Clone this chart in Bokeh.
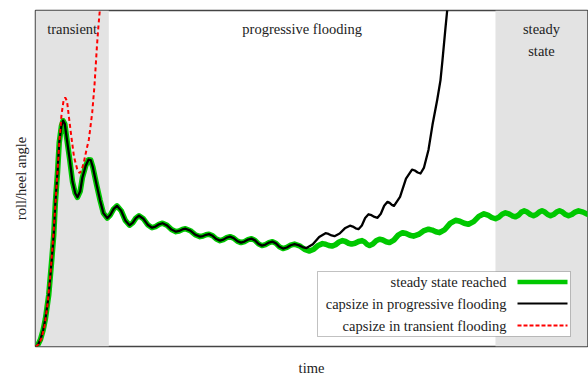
from bokeh.plotting import figure
from bokeh.models import Range1d, BoxAnnotation, Label, Arrow, FixedTicker
from bokeh.embed import file_html
from bokeh.resources import INLINE

# ---------------- data (time and roll/heel angle, arbitrary units 0..100) ----------------
shared_t = [0, 0.4, 0.9, 1.4, 1.8, 2.4, 2.9, 3.3, 3.6, 4.0, 4.3, 4.7, 5.0, 5.3, 5.6, 6.2,
            6.7, 7.2, 7.6, 8.1, 8.5, 9.1, 9.6, 10.0, 10.4, 11.1, 11.7, 12.3, 13.0,
            13.55, 14.16, 14.76, 15.52, 16.27, 17.03, 17.60, 18.18, 18.75, 19.54, 20.32,
            21.11, 21.74, 22.38, 23.01, 23.82, 24.64, 25.45, 26.02, 26.60, 27.17, 28.05,
            28.92, 29.80, 30.34, 30.89, 31.43, 32.09, 32.76, 33.42, 34.03, 34.63, 35.24,
            35.90, 36.57, 37.23, 37.86, 38.50, 39.13, 39.76, 40.40, 41.03, 41.66, 42.30,
            42.93, 43.57, 44.20, 44.84, 45.53, 46.23, 46.92]
shared_a = [0, 0.4, 2.1, 5.0, 8.3, 15.4, 24.9, 33.1, 42.9, 52.1, 60.7, 65.7, 67.2, 66.3, 62.7, 55.6,
            49.1, 45.6, 44.4, 46.2, 50.3, 53.8, 55.6, 55.5, 53.3, 47.9, 43.5, 39.7, 38.2,
            39.13, 40.95, 41.86, 40.42, 37.53, 36.09, 36.80, 38.21, 38.91, 38.02, 36.25,
            35.36, 35.69, 36.36, 36.69, 36.06, 34.80, 34.17, 34.39, 34.84, 35.06, 34.47,
            33.28, 32.69, 32.88, 33.25, 33.43, 32.95, 31.99, 31.51, 31.81, 32.40, 32.69,
            32.25, 31.36, 30.92, 31.22, 31.81, 32.10, 31.58, 30.55, 30.03, 30.33, 30.92,
            31.21, 30.69, 29.66, 29.14, 29.47, 30.14, 30.47]

# steady state reached (continuation)
steady_t = [47.83, 48.73, 49.64, 50.42, 51.21, 51.99, 52.56, 53.14, 53.71, 54.35, 54.98, 55.62,
            56.16, 56.71, 57.25, 57.88, 58.52, 59.15, 59.60, 60.06, 60.51, 61.11, 61.72, 62.32,
            62.92, 63.53, 64.13, 64.92, 65.70, 66.49, 67.15, 67.82, 68.48, 69.39, 70.29, 71.20,
            71.86, 72.53, 73.19, 74.16, 75.12, 76.09, 76.87, 77.66, 78.44, 79.38, 80.31, 81.25,
            81.94, 82.64, 83.33, 83.93, 84.54, 85.14, 85.75, 86.35, 86.96, 87.47, 87.99, 88.50,
            89.07, 89.65, 90.22, 90.73, 91.25, 91.76, 92.27, 92.79, 93.30, 93.84, 94.39, 94.93,
            95.47, 96.02, 96.56, 97.16, 97.77, 98.37, 99.2, 100.0]
steady_a = [29.95, 28.92, 28.40, 28.96, 30.07, 30.62, 30.44, 30.07, 29.88, 30.29, 31.10, 31.51,
            31.25, 30.73, 30.47, 30.73, 31.25, 31.51, 31.14, 30.40, 30.03, 30.51, 31.47, 31.95,
            31.69, 31.18, 30.92, 31.66, 33.14, 33.88, 33.62, 33.10, 32.84, 33.36, 34.39, 34.91,
            34.65, 34.14, 33.88, 34.80, 36.65, 37.57, 37.28, 36.69, 36.39, 37.17, 38.72, 39.50,
            39.13, 38.39, 38.02, 38.46, 39.35, 39.79, 39.50, 38.91, 38.61, 39.05, 39.94, 40.38,
            40.01, 39.28, 38.91, 39.28, 40.01, 40.38, 40.01, 39.28, 38.91, 39.28, 40.01, 40.38,
            40.01, 39.28, 38.91, 39.28, 40.01, 40.38, 40.0, 39.35]

# capsize in progressive flooding (continuation)
prog_t = [47.64, 48.37, 49.09, 50.24, 51.39, 52.54, 53.08, 53.63, 54.17, 55.10, 56.04, 56.97,
          57.48, 58.00, 58.51, 59.12, 59.72, 60.33, 60.87, 61.42, 61.96, 62.56, 63.17, 63.77,
          64.16, 64.56, 64.95, 66.04, 67.12, 68.21, 68.72, 69.24, 69.75, 70.38, 71.20, 71.92,
          72.77, 73.37, 73.73, 74.28, 74.58, 74.73]
prog_a = [30.18, 29.59, 29.29, 30.40, 32.62, 33.73, 33.51, 33.06, 32.84, 33.62, 35.17, 35.95,
          35.69, 35.17, 34.91, 36.02, 38.24, 39.35, 39.09, 38.57, 38.31, 39.50, 41.87, 43.05,
          42.75, 42.16, 41.86, 44.56, 49.96, 52.66, 52.37, 51.78, 51.48, 53.25, 58.58, 65.98,
          73.37, 79.29, 85.21, 94.97, 100.0, 102.96]

# capsize in transient flooding
trans_t = [0, 0.54, 1.09, 1.63, 2.17, 2.72, 3.26, 3.80, 4.35, 4.71, 5.07, 5.38, 5.71, 6.07,
           6.52, 6.97, 7.52, 7.97, 8.33, 8.75, 9.24, 9.66, 10.27, 10.69, 11.14, 11.41, 11.65, 11.74]
trans_a = [0, 0.59, 2.37, 5.92, 12.43, 21.89, 33.73, 47.34, 61.54, 68.93, 73.08, 74.11, 73.08, 68.05,
           62.13, 56.51, 52.96, 51.63, 52.37, 54.73, 58.58, 61.54, 69.53, 77.81, 89.64, 95.56, 100.0, 102.4]

# phases (time bounds)
phase_names = ["transient", "progressive flooding", "steady\nstate"]
phase_start = [0, 13.28, 83.33]
phase_end = [13.28, 83.33, 100]

series_labels = ["steady state reached", "capsize in progressive flooding", "capsize in transient flooding"]
series_colors = ["#00c800", "#000000", "#ff0000"]

FONT = "Liberation Serif"
FS = "14.5px"
TXT = "#222222"

p = figure(width=588, height=378, output_backend="svg", toolbar_location=None,
           x_range=Range1d(0, 100), y_range=Range1d(0, 100),
           min_border_left=35, min_border_right=1, min_border_top=10, min_border_bottom=30)
p.grid.visible = False
p.outline_line_color = "#444444"
p.outline_line_width = 1.5
p.background_fill_color = "white"
p.border_fill_color = "white"

for ax in (p.xaxis[0], p.yaxis[0]):
    ax.ticker = FixedTicker(ticks=[])
    ax.major_tick_out = 0
    ax.major_tick_in = 0
    ax.minor_tick_out = 0
    ax.minor_tick_in = 0
    ax.major_label_standoff = 0
    ax.axis_line_color = None
    ax.axis_label_text_font = FONT
    ax.axis_label_text_font_size = FS
    ax.axis_label_text_font_style = "normal"
    ax.axis_label_text_color = TXT
p.xaxis.axis_label = "time"
p.yaxis.axis_label = "roll/heel angle"
p.xaxis.axis_label_standoff = 13
p.yaxis.axis_label_standoff = 7

# shaded phases
for i in (0, 2):
    p.add_layout(BoxAnnotation(left=phase_start[i], right=phase_end[i], fill_color="#e3e3e3",
                               fill_alpha=1, line_color=None, level="underlay"))

# phase labels
for i, name in enumerate(phase_names):
    lines = name.split("\n")
    for j, ln in enumerate(lines):
        p.add_layout(Label(x=(phase_start[i] + phase_end[i]) / 2, y=94.4 - j * 6.6, text=ln,
                           text_align="center", text_baseline="middle", text_font=FONT,
                           text_font_size=FS, text_color=TXT))

# curves
p.line(shared_t + steady_t, shared_a + steady_a, line_color=series_colors[0], line_width=5.5,
       line_join="round", line_cap="round")
p.line(shared_t + prog_t, shared_a + prog_a, line_color=series_colors[1], line_width=2.3,
       line_join="round", line_cap="round")
p.line(trans_t, trans_a, line_color=series_colors[2], line_width=2, line_dash="4 3")

# legend (labels left of samples), screen units relative to frame
p.add_layout(BoxAnnotation(left=282, right=535, bottom=10, top=75,
                           left_units="screen", right_units="screen",
                           bottom_units="screen", top_units="screen",
                           fill_color="white", fill_alpha=1, line_color="#333333", line_width=1))
row_y = [64.5, 43, 21]
widths = [4.5, 2, 2]
dashes = ["solid", "solid", "4 2"]
for k in range(3):
    p.add_layout(Label(x=471, y=row_y[k], x_units="screen", y_units="screen", text=series_labels[k],
                       text_align="right", text_baseline="middle", text_font=FONT,
                       text_font_size=FS, text_color=TXT))
    p.add_layout(Arrow(end=None, start=None, x_start=482, y_start=row_y[k], x_end=532, y_end=row_y[k],
                       start_units="screen", end_units="screen", line_color=series_colors[k],
                       line_width=widths[k], line_dash=dashes[k]))

open("out.html", "w").write(file_html(p, INLINE))
